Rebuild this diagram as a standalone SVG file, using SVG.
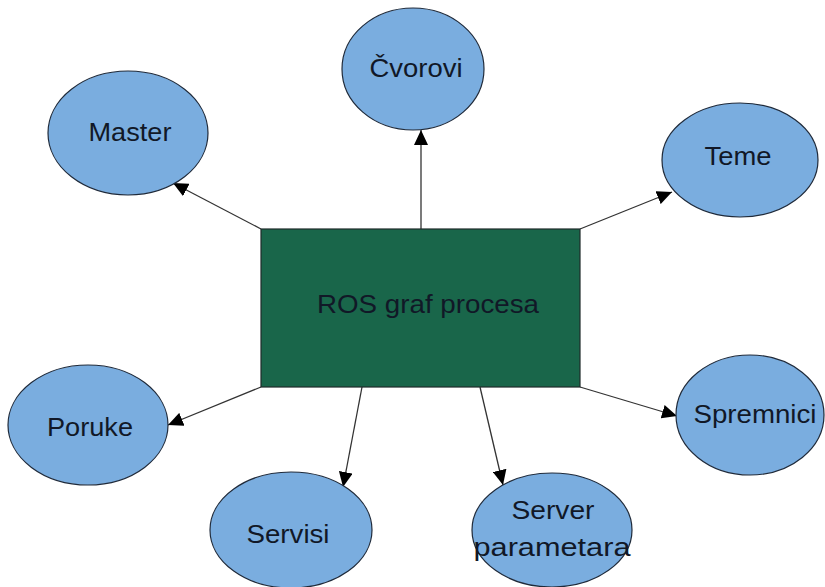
<svg xmlns="http://www.w3.org/2000/svg" width="825" height="587" viewBox="0 0 825 587">
<style>
.node ellipse{fill:#7aaddf;stroke:#1f2a3a;stroke-width:1.2}
.lbl{font-family:"Liberation Sans",Arial,sans-serif;font-size:25px;fill:#111827;text-anchor:middle}
.conn line{stroke:#333;stroke-width:1.3;marker-end:url(#arr)}
</style>
<defs>
<marker id="arr" markerUnits="userSpaceOnUse" markerWidth="16" markerHeight="14" refX="15" refY="7" orient="auto">
<path d="M0,0 L15,7 L0,14 Z" fill="#000"/>
</marker>
</defs>
<rect width="825" height="587" fill="#fff"/>
<g id="conns" class="conn">
<line x1="421" y1="229" x2="421" y2="130"/>
<line x1="261" y1="229" x2="173" y2="183"/>
<line x1="580" y1="229" x2="672" y2="192"/>
<line x1="261" y1="387" x2="168" y2="425"/>
<line x1="580" y1="387" x2="677" y2="416"/>
<line x1="362" y1="387" x2="343" y2="487"/>
<line x1="480" y1="387" x2="503" y2="485"/>
</g>
<g id="root">
<rect x="261" y="229" width="319" height="158" fill="#19664a" stroke="#1f2a2a" stroke-width="1.2"/>
<text class="lbl" x="428" y="313" textLength="222" lengthAdjust="spacingAndGlyphs">ROS graf procesa</text>
</g>
<g id="cvorovi" class="node">
<ellipse cx="413" cy="69" rx="71" ry="61"/>
<text class="lbl" x="416" y="77" textLength="93" lengthAdjust="spacingAndGlyphs">Čvorovi</text>
</g>
<g id="master" class="node">
<ellipse cx="128" cy="133" rx="80" ry="62"/>
<text class="lbl" x="130" y="141" textLength="83" lengthAdjust="spacingAndGlyphs">Master</text>
</g>
<g id="teme" class="node">
<ellipse cx="740" cy="160" rx="78" ry="57"/>
<text class="lbl" x="738" y="165" textLength="67" lengthAdjust="spacingAndGlyphs">Teme</text>
</g>
<g id="poruke" class="node">
<ellipse cx="88" cy="425" rx="80" ry="60"/>
<text class="lbl" x="90" y="436" textLength="86" lengthAdjust="spacingAndGlyphs">Poruke</text>
</g>
<g id="spremnici" class="node">
<ellipse cx="750" cy="415" rx="74" ry="60"/>
<text class="lbl" x="755" y="423" textLength="123" lengthAdjust="spacingAndGlyphs">Spremnici</text>
</g>
<g id="servisi" class="node">
<ellipse cx="291" cy="530" rx="81" ry="58"/>
<text class="lbl" x="288" y="543" textLength="83" lengthAdjust="spacingAndGlyphs">Servisi</text>
</g>
<g id="server" class="node">
<ellipse cx="552" cy="530" rx="80" ry="57"/>
<text class="lbl" x="553" y="519" textLength="83" lengthAdjust="spacingAndGlyphs">Server</text>
<text class="lbl" x="552" y="556" textLength="157" lengthAdjust="spacingAndGlyphs">parametara</text>
</g>
</svg>
